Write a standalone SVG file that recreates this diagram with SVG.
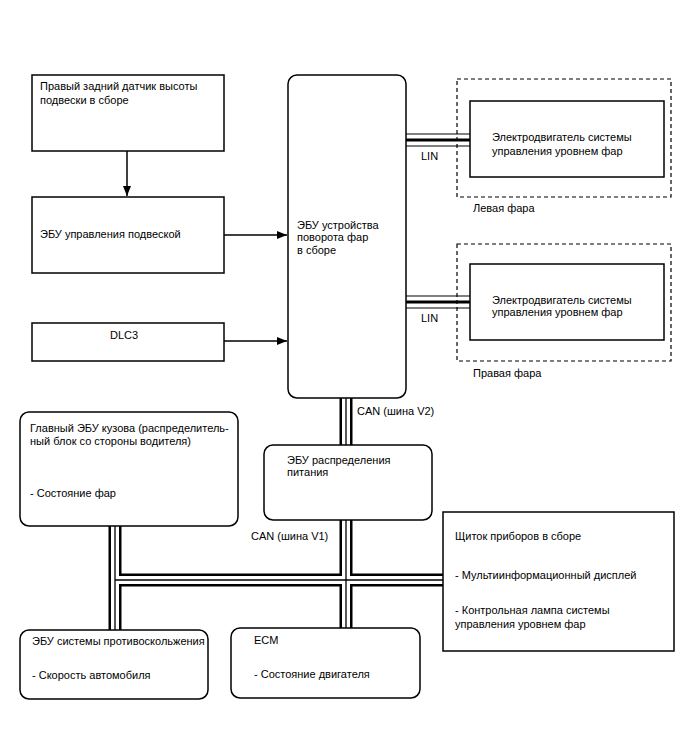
<svg xmlns="http://www.w3.org/2000/svg" width="688" height="755" viewBox="0 0 688 755">
<defs>
<style>
text{font-family:"Liberation Sans",Arial,sans-serif;font-size:11px;fill:#000}
.box{fill:#fff;stroke:#000;stroke-width:1.5}
.dash{fill:none;stroke:#000;stroke-width:1.2;stroke-dasharray:4,3}
.arr{stroke:#000;stroke-width:1.5;fill:none;marker-end:url(#ah)}
.busO{stroke:#000;stroke-width:13;fill:none}
.busW{stroke:#fff;stroke-width:8;fill:none}
.busC{stroke:#000;stroke-width:1.3;fill:none}
.linO{stroke:#000;stroke-width:13;fill:none}
.linW{stroke:#fff;stroke-width:11;fill:none}
.linC{stroke:#000;stroke-width:3;fill:none}
</style>
<marker id="ah" viewBox="0 0 10 10" refX="10" refY="5" markerWidth="10" markerHeight="10" markerUnits="userSpaceOnUse" orient="auto">
<path d="M0,1 L10,5 L0,9 Z" fill="#000"/>
</marker>
</defs>
<rect width="688" height="755" fill="#fff"/>
<g id="connectors">
<path class="busO" d="M346,398 V445 M115,526 V630 M346,520 V628 M115,580 H443"/>
<path class="busW" d="M346,398 V445 M115,526 V630 M346,520 V628 M115,580 H443"/>
<path class="busC" d="M346,398 V445 M115,526 V630 M346,520 V628 M115,580 H443"/>
<path class="linO" d="M406,140 H470 M406,302 H470"/>
<path class="linW" d="M406,140 H470 M406,302 H470"/>
<path class="linC" d="M406,140 H470 M406,302 H470"/>
<path class="arr" d="M127,151 V196"/>
<path class="arr" d="M224,235 H287"/>
<path class="arr" d="M224,341 H287"/>
<text x="421" y="160">LIN</text>
<text x="421" y="322">LIN</text>
<text x="357" y="415">CAN (шина V2)</text>
<text x="251" y="540">CAN (шина V1)</text>
</g>
<g id="sensor">
<rect class="box" x="32" y="75" width="192" height="76"/>
<text x="40" y="90">Правый задний датчик высоты</text>
<text x="40" y="104">подвески в сборе</text>
</g>
<g id="susp-ecu">
<rect class="box" x="32" y="197" width="192" height="76"/>
<text x="40" y="238">ЭБУ управления подвеской</text>
</g>
<g id="dlc3">
<rect class="box" x="32" y="323" width="192" height="38"/>
<text x="124" y="339" text-anchor="middle">DLC3</text>
</g>
<g id="swivel-ecu">
<rect class="box" x="288" y="75" width="118" height="323" rx="9"/>
<text x="297" y="229">ЭБУ устройства</text>
<text x="297" y="241">поворота фар</text>
<text x="297" y="254">в сборе</text>
</g>
<g id="left-headlight">
<rect class="dash" x="457" y="79" width="214" height="118"/>
<text x="473" y="212">Левая фара</text>
</g>
<g id="left-motor">
<rect class="box" x="470" y="101" width="194" height="76"/>
<text x="492" y="141">Электродвигатель системы</text>
<text x="492" y="155">управления уровнем фар</text>
</g>
<g id="right-headlight">
<rect class="dash" x="457" y="244" width="214" height="117"/>
<text x="473" y="377">Правая фара</text>
</g>
<g id="right-motor">
<rect class="box" x="470" y="264" width="194" height="76"/>
<text x="492" y="304">Электродвигатель системы</text>
<text x="492" y="316">управления уровнем фар</text>
</g>
<g id="body-ecu">
<rect class="box" x="20" y="412" width="218" height="114" rx="9"/>
<text x="30" y="432">Главный ЭБУ кузова (распределитель-</text>
<text x="30" y="445">ный блок со стороны водителя)</text>
<text x="30" y="497">- Состояние фар</text>
</g>
<g id="power-ecu">
<rect class="box" x="264" y="445" width="168" height="75" rx="9"/>
<text x="287" y="464">ЭБУ распределения</text>
<text x="287" y="476">питания</text>
</g>
<g id="cluster">
<rect class="box" x="443" y="512" width="231" height="139"/>
<text x="455" y="540">Щиток приборов в сборе</text>
<text x="455" y="579">- Мультиинформационный дисплей</text>
<text x="455" y="614">- Контрольная лампа системы</text>
<text x="455" y="628">управления уровнем фар</text>
</g>
<g id="antiskid-ecu">
<rect class="box" x="20" y="630" width="188" height="69" rx="9"/>
<text x="32" y="645">ЭБУ системы противоскольжения</text>
<text x="32" y="679">- Скорость автомобиля</text>
</g>
<g id="ecm">
<rect class="box" x="231" y="628" width="189" height="70" rx="9"/>
<text x="254" y="644">ECM</text>
<text x="254" y="678">- Состояние двигателя</text>
</g>
</svg>
